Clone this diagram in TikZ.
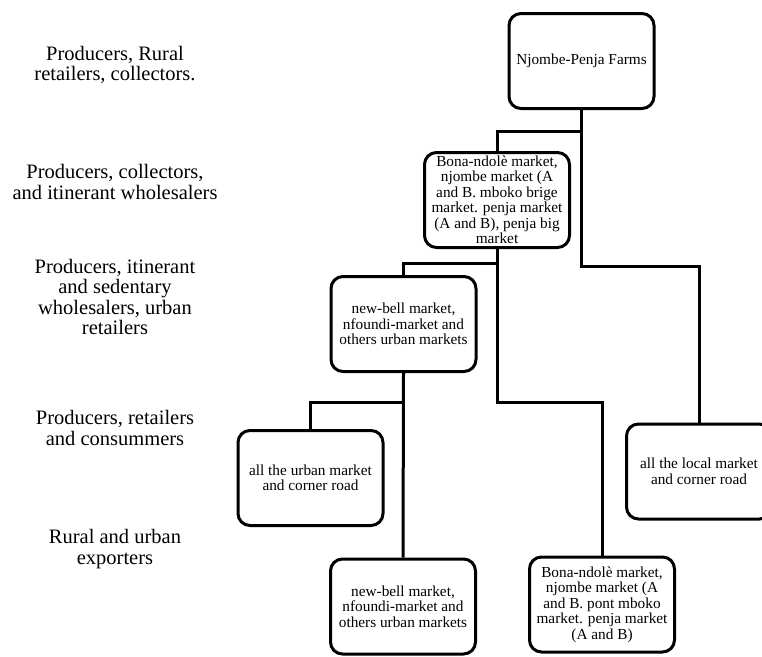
\documentclass[tikz,border=0pt]{standalone}
\usepackage{fontspec}
\setmainfont{Liberation Serif}
\usepackage{tikz}
\usetikzlibrary{positioning, calc}

\begin{document}
\begin{tikzpicture}[
        x=1pt, y=-1pt,
        % 1. STYLES
        base/.style={
            draw, align=center, minimum height=95pt, minimum width=145pt,
            inner sep=0pt, rounded corners=12pt, line width=3pt,
            font=\fontsize{15.3}{15.5}\selectfont
        },
        % Market boxes
        market/.style={base},
        % Level labels on the left
        level/.style={align=center, font=\fontsize{20.5}{20.5}\selectfont},
        % Connectors
        link/.style={line width=3pt}
    ]

        \useasboundingbox (0,0) rectangle (762,656);

        % 2. LEVEL LABELS
        \node[level] (lvl1) at (115,65) {Producers, Rural \\ retailers, collectors.};
        \node[level] (lvl2) at (115,182) {Producers, collectors, \\ and itinerant wholesalers};
        \node[level] (lvl3) at (115,297) {Producers, itinerant \\ and sedentary \\ wholesalers, urban \\ retailers};
        \node[level] (lvl4) at (115,428) {Producers, retailers \\ and consummers};
        \node[level] (lvl5) at (115,549) {Rural and urban \\ exporters};

        % 3. MARKET BOXES (NODES)
        \node[market] (farms) at (581.5,61) {Njombe-Penja Farms};

        \node[market] (bona1) at (497,200) {Bona-ndolè market, \\ njombe market (A \\ and B. mboko brige \\ market. penja market \\ (A and B), penja big \\ market};

        \node[market] (newbell1) at (403.5,324) {new-bell market, \\ nfoundi-market and \\ others urban markets};

        \node[market] (urban) at (310.5,478) {all the urban market \\ and corner road};

        \node[market] (local) at (699,471.5) {all the local market \\ and corner road};

        \node[market] (newbell2) at (403,606.5) {new-bell market, \\ nfoundi-market and \\ others urban markets};

        \node[market] (bona2) at (602,604.5) {Bona-ndolè market, \\ njombe market (A \\ and B. pont mboko \\ market. penja market \\ (A and B)};

        % 4. CONNECTORS
        \coordinate (s1) at (0,131);
        \coordinate (s2) at (0,266);
        \coordinate (s3) at (0,263);
        \coordinate (s4) at (0,402);

        \draw[link] (farms.south) -- (farms.south |- s1) -| (bona1.north);
        \draw[link] (farms.south) -- (farms.south |- s2) -| (local.north);
        \draw[link] (bona1.south) -- (bona1.south |- s3) -| (newbell1.north);
        \draw[link] (bona1.south) -- (bona1.south |- s4) -| (bona2.north);
        \draw[link] (newbell1.south) -- (newbell1.south |- s4) -| (urban.north);
        \draw[link] (newbell1.south) -- (newbell2.north);

    \end{tikzpicture}
\end{document}
